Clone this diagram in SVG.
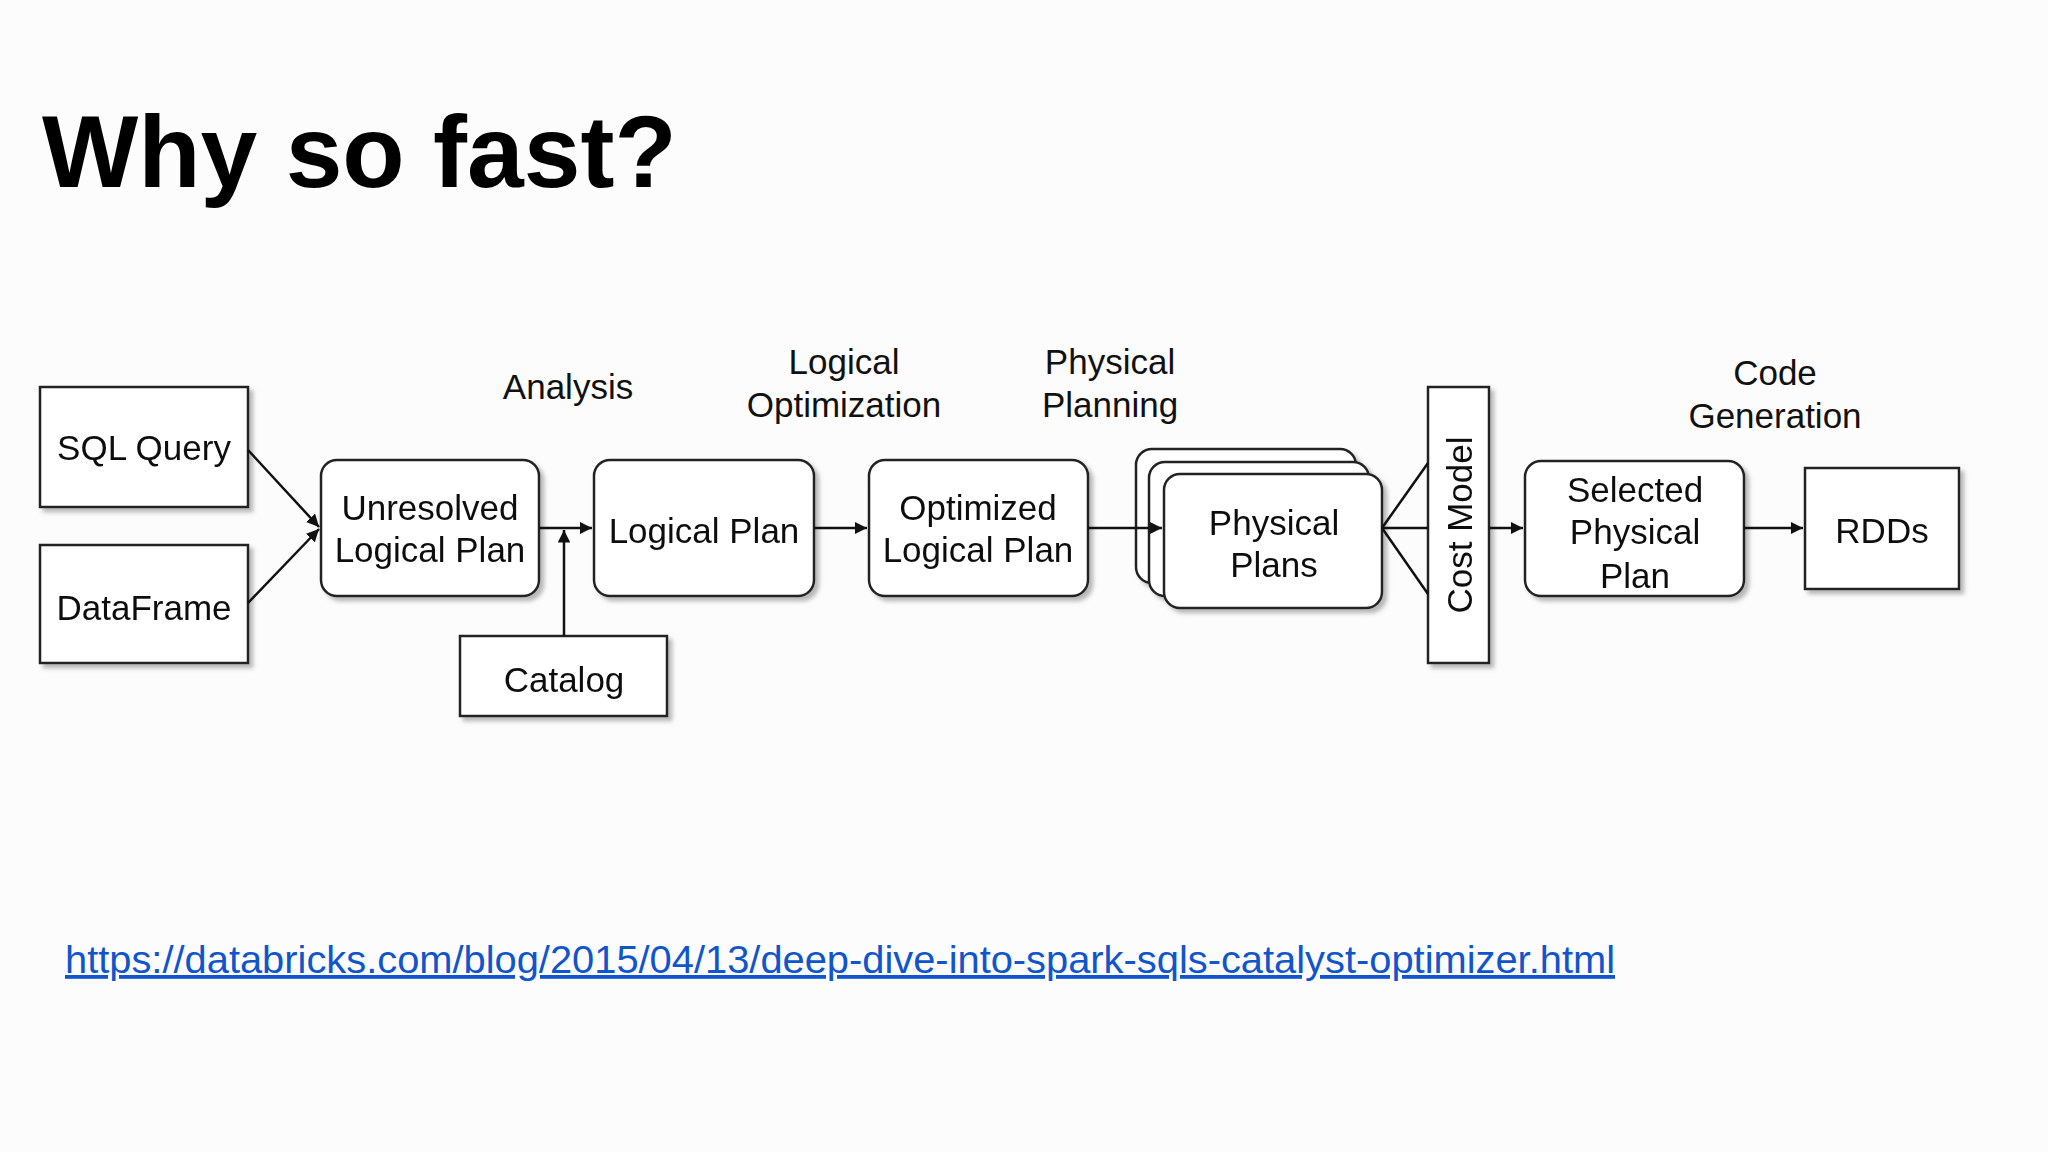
<svg xmlns="http://www.w3.org/2000/svg" width="2048" height="1152" viewBox="0 0 2048 1152">
<defs>
<style>
.b{fill:#fff;stroke:#222;stroke-width:2.5}
.t{font-family:"Liberation Sans",Arial,sans-serif;font-size:35px;fill:#111;text-anchor:middle}
.c{stroke:#111;stroke-width:2.5;fill:none}
</style>
<filter id="sh" x="-10%" y="-10%" width="130%" height="130%"><feDropShadow dx="4" dy="4" stdDeviation="2" flood-color="#888" flood-opacity="0.6"/></filter>
<marker id="a" viewBox="0 0 10 10" refX="10" refY="5" markerWidth="5" markerHeight="5" orient="auto"><path d="M0,0L10,5L0,10z" fill="#111"/></marker>
</defs>
<rect width="2048" height="1152" fill="#fdfcfd"/>
<text x="42" y="187" font-family="Liberation Sans,Arial,sans-serif" font-weight="bold" font-size="102" fill="#000">Why so fast?</text>
<g id="sql" filter="url(#sh)"><rect class="b" x="40" y="387" width="208" height="120"/><text class="t" x="144" y="460">SQL Query</text></g>
<g id="df" filter="url(#sh)"><rect class="b" x="40" y="545" width="208" height="118"/><text class="t" x="144" y="620">DataFrame</text></g>
<g id="unres" filter="url(#sh)"><rect class="b" x="321" y="460" width="218" height="136" rx="16"/><text class="t" x="430" y="520">Unresolved</text><text class="t" x="430" y="562">Logical Plan</text></g>
<g id="lp" filter="url(#sh)"><rect class="b" x="594" y="460" width="220" height="136" rx="16"/><text class="t" x="704" y="543">Logical Plan</text></g>
<g id="olp" filter="url(#sh)"><rect class="b" x="869" y="460" width="219" height="136" rx="16"/><text class="t" x="978" y="520">Optimized</text><text class="t" x="978" y="562">Logical Plan</text></g>
<g id="pp" filter="url(#sh)"><rect class="b" x="1136" y="449" width="220" height="134" rx="16"/><rect class="b" x="1149" y="462" width="220" height="134" rx="16"/><rect class="b" x="1164" y="474" width="218" height="134" rx="16"/><text class="t" x="1274" y="535">Physical</text><text class="t" x="1274" y="577">Plans</text></g>
<g id="cost" filter="url(#sh)"><rect class="b" x="1428" y="387" width="61" height="276"/><text class="t" transform="translate(1472,525) rotate(-90)">Cost Model</text></g>
<g id="sel" filter="url(#sh)"><rect class="b" x="1525" y="461" width="219" height="135" rx="16"/><text class="t" x="1635" y="502">Selected</text><text class="t" x="1635" y="544">Physical</text><text class="t" x="1635" y="588">Plan</text></g>
<g id="rdd" filter="url(#sh)"><rect class="b" x="1805" y="468" width="154" height="121"/><text class="t" x="1882" y="543">RDDs</text></g>
<g id="cat" filter="url(#sh)"><rect class="b" x="460" y="636" width="207" height="80"/><text class="t" x="564" y="692">Catalog</text></g>
<g id="labels">
<text class="t" x="568" y="399">Analysis</text>
<text class="t" x="844" y="374">Logical</text><text class="t" x="844" y="417">Optimization</text>
<text class="t" x="1110" y="374">Physical</text><text class="t" x="1110" y="417">Planning</text>
<text class="t" x="1775" y="385">Code</text><text class="t" x="1775" y="428">Generation</text>
</g>
<g id="connectors">
<line class="c" x1="248" y1="450" x2="319" y2="527" marker-end="url(#a)"/>
<line class="c" x1="248" y1="603" x2="319" y2="529" marker-end="url(#a)"/>
<line class="c" x1="539" y1="528" x2="592" y2="528" marker-end="url(#a)"/>
<line class="c" x1="564" y1="636" x2="564" y2="530" marker-end="url(#a)"/>
<line class="c" x1="814" y1="528" x2="867" y2="528" marker-end="url(#a)"/>
<line class="c" x1="1088" y1="528" x2="1162" y2="528" marker-end="url(#a)"/>
<line class="c" x1="1382" y1="528" x2="1428" y2="463"/>
<line class="c" x1="1382" y1="528" x2="1428" y2="528"/>
<line class="c" x1="1382" y1="528" x2="1428" y2="594"/>
<line class="c" x1="1489" y1="528" x2="1523" y2="528" marker-end="url(#a)"/>
<line class="c" x1="1744" y1="528" x2="1803" y2="528" marker-end="url(#a)"/>
</g>
<text x="65" y="973" font-family="Liberation Sans,Arial,sans-serif" font-size="38" fill="#1155cc" text-decoration="underline" textLength="1550" lengthAdjust="spacingAndGlyphs">https://databricks.com/blog/2015/04/13/deep-dive-into-spark-sqls-catalyst-optimizer.html</text>
</svg>
